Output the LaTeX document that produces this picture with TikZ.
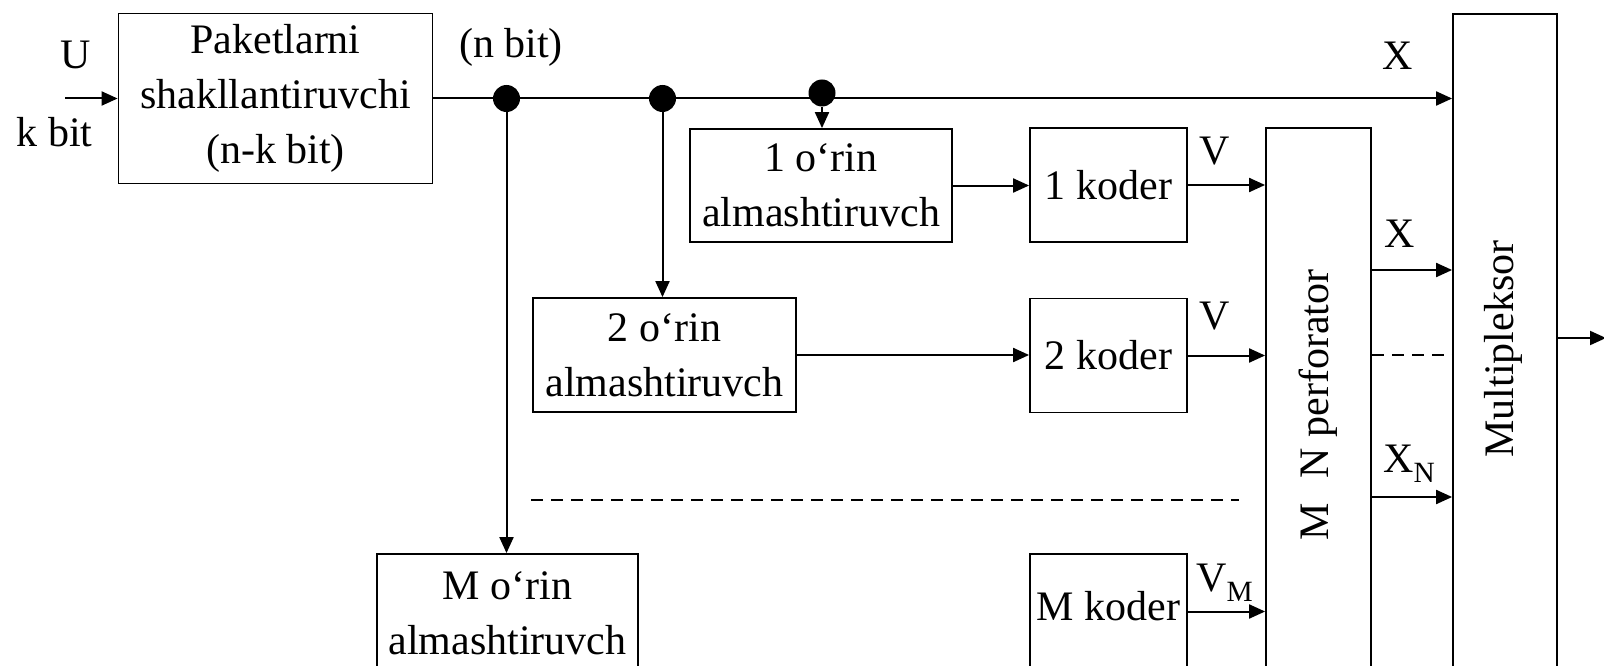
\documentclass[tikz,border=0pt]{standalone}
\usepackage{fontspec}
\setmainfont{Liberation Serif}
\usetikzlibrary{arrows.meta}
\begin{document}
\begin{tikzpicture}[x=1pt,y=-1pt,
  box/.style={draw, line width=1.8pt, align=center, inner sep=0pt, font=\fontsize{42}{55}\selectfont},
  lbl/.style={inner sep=0pt, font=\fontsize{42}{55}\selectfont},
  conn/.style={line width=2pt, -{Triangle[length=16pt,width=14pt]}},
  dashline/.style={line width=1.8pt, dash pattern=on 12pt off 8pt},
  dotnode/.style={circle, fill, inner sep=0pt, minimum size=27pt}]
\useasboundingbox (0,0) rectangle (1604,666);
\clip (0,0) rectangle (1604,666);
% boxes
\node[box, minimum width=314pt, minimum height=170pt] (pk) at (275.5,98.5) {Paketlarni\\shakllantiruvchi\\(n-k bit)};
\node[box, minimum width=262pt, minimum height=113pt] (o1) at (821,185.5) {1 o‘rin\\almashtiruvch};
\node[box, minimum width=263pt, minimum height=114pt] (o2) at (664.5,355) {2 o‘rin\\almashtiruvch};
\node[box, minimum width=261pt, minimum height=118pt] (om) at (507.5,613) {M o‘rin\\almashtiruvch};
\node[box, minimum width=157pt, minimum height=114pt] (k1) at (1108.5,185) {1 koder};
\node[box, minimum width=157pt, minimum height=114pt] (k2) at (1108.5,355.5) {2 koder};
\node[box, minimum width=157pt, minimum height=118pt] (km) at (1108.5,613) {};
\node[lbl] (kmt) at (1108.5,606) {M koder};
\node[box, minimum width=105pt, minimum height=572pt] (pf) at (1318.5,414) {};
\node[box, minimum width=104pt, minimum height=686pt] (mx) at (1505,357) {};
\node[lbl, rotate=90] (pft) at (1318.5,405) {M\hspace{25pt}N perforator};
\node[lbl, rotate=90] (mxt) at (1503.5,349) {Multipleksor};
% labels
\node[lbl] (U) at (76,54.5) {U};
\node[lbl] (kb) at (54.5,132) {k bit};
\node[lbl] (nb) at (511,47.5) {(n bit)};
\node[lbl] (X0) at (1397.5,56) {X};
\node[lbl] (V1) at (1214.5,151.5) {V};
\node[lbl] (V2) at (1214.5,316.5) {V};
\node[lbl] (X1) at (1399.5,234) {X};
\node[lbl, anchor=base west] (XN) at (1383,472) {X\textsubscript{N}};
\node[lbl, anchor=base west] (VM) at (1196,591) {V\textsubscript{M}};
% coordinates
\coordinate (in) at (65,98.5);
\coordinate (yx) at (0,270);
\coordinate (yd) at (0,355);
\coordinate (yn) at (0,497);
\coordinate (yo) at (0,338);
\coordinate (ym) at (0,611.5);
\coordinate (out) at (1606,338);
\coordinate (dl1) at (531,500);
\coordinate (dl2) at (1239,500);
% connectors
\draw[conn] (in) -- (pk.west);
\draw[conn] (pk.east) -- (pk.east -| mx.west);
\node[dotnode] (d1) at (506.5,98.5) {};
\node[dotnode] (d2) at (662.5,98.5) {};
\node[dotnode] (d3) at (822,93) {};
\draw[conn] (d1) -- (d1 |- om.north);
\draw[conn] (d2) -- (d2 |- o2.north);
\draw[conn] (d3) -- (d3 |- o1.north);
\draw[conn] (o1.east) -- (o1.east -| k1.west);
\draw[conn] (o2.east) -- (o2.east -| k2.west);
\draw[conn] (k1.east) -- (k1.east -| pf.west);
\draw[conn] (k2.east) -- (k2.east -| pf.west);
\draw[conn] (km.east |- ym) -- (pf.west |- ym);
\draw[conn] (pf.east |- yx) -- (mx.west |- yx);
\draw[dashline] (pf.east |- yd) -- (mx.west |- yd);
\draw[conn] (pf.east |- yn) -- (mx.west |- yn);
\draw[dashline] (dl1) -- (dl2);
\draw[conn] (mx.east |- yo) -- (out);
\end{tikzpicture}
\end{document}
